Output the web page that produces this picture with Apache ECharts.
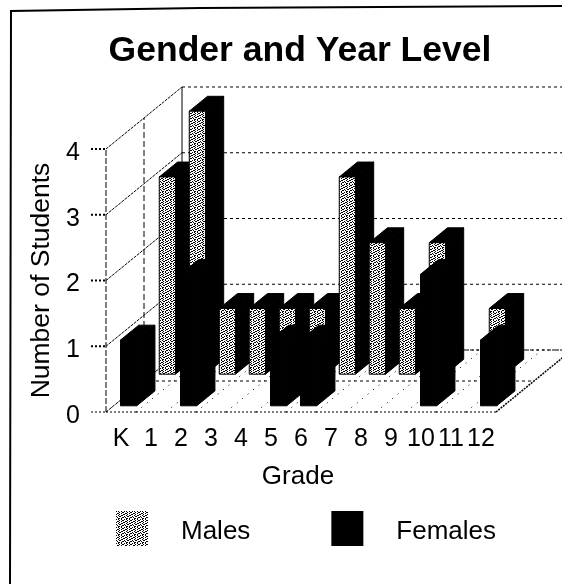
<!DOCTYPE html>
<html>
<head>
<meta charset="utf-8">
<title>Gender and Year Level</title>
<script src="https://cdn.jsdelivr.net/npm/echarts@6/dist/echarts.min.js"></script>
<style>
    html, body { margin: 0; padding: 0; background: #fff; }
    #main { width: 562px; height: 584px; }
</style>
</head>
<body>
<div id="main"></div>
<script>
const grades = ['K', '1', '2', '3', '4', '5', '6', '7', '8', '9', '10', '11', '12']
const males = [3, 4, 1, 1, 1, 1, 3, 2, 1, 2, 0, 1, 0]
const females = [1, 0, 2, 0, 0, 1, 1, 0, 0, 0, 2, 0, 1]
const yTicks = [0, 1, 2, 3, 4]

const FONT = '"Liberation Sans", Arial, sans-serif'
// oblique vector of the whole floor, px
const DEPTH_X = 76
const DEPTH_Y = -62

// halftone tile for the male bars
const tileRows = [
    '10100100',
    '00010011',
    '01100100',
    '10010001',
    '00100110',
    '10011000',
    '01000011',
    '00110100'
]
const tile = document.createElement('canvas')
tile.width = 8
tile.height = 8
const tileCtx = tile.getContext('2d')
tileCtx.fillStyle = '#fff'
tileCtx.fillRect(0, 0, 8, 8)
tileCtx.fillStyle = '#000'
tileRows.forEach((row, y) => {
    row.split('').forEach((c, x) => {
        if (c === '1') tileCtx.fillRect(x, y, 1, 1)
    })
})
const halftone = { image: tile, repeat: 'repeat' }

const shift = (p, f) => [p[0] + DEPTH_X * f, p[1] + DEPTH_Y * f]

const line = (a, b, dash, width) => ({
    type: 'line',
    shape: { x1: a[0], y1: a[1], x2: b[0], y2: b[1] },
    style: { stroke: '#000', lineWidth: width || 1, lineDash: dash || null }
})

const poly = (points, fill) => ({
    type: 'polygon',
    shape: { points: points },
    style: { fill: fill, stroke: '#000', lineWidth: 1 }
})

// bar with front face, right side and top, front/back are floor depth fractions
const barRenderer = (front, back, frontFill) => (params, api) => {
    const i = api.value(0)
    const v = api.value(1)
    if (!v) return null
    const half = api.size([1, 0])[0] * 0.27
    const base = api.coord([i, 0])
    const top = api.coord([i, v])
    const bl = shift([base[0] - half, base[1]], front)
    const br = shift([base[0] + half, base[1]], front)
    const tl = shift([top[0] - half, top[1]], front)
    const tr = shift([top[0] + half, top[1]], front)
    const d = back - front
    return {
        type: 'group',
        children: [
            poly([br, tr, shift(tr, d), shift(br, d)], '#000'),
            poly([tl, tr, shift(tr, d), shift(tl, d)], '#000'),
            poly([bl, br, tr, tl], frontFill)
        ]
    }
}

const wallRenderer = (params, api) => {
    const v = api.value(0)
    const p = api.coord([0, v])
    const left = [p[0] - api.size([1, 0])[0] / 2, p[1]]
    const back = shift(left, 1)
    const children = [
        line(left, back, [3, 1]),
        line(back, [back[0] + 390, back[1]], [3, 3]),
        line([left[0] - 15, left[1]], left, [2, 2], v === 0 ? 1 : 2)
    ]
    if (v === 4) {
        const bottom = api.coord([0, 0])
        const low = [left[0], bottom[1]]
        children.push(line(low, left, [6, 2]))
        children.push(line(shift(low, 0.5), shift(left, 0.5), [6, 3]))
        children.push(line(shift(low, 1), back))
    }
    return { type: 'group', children: children }
}

const floorRenderer = (params, api) => {
    const i = api.value(0)
    const w = api.size([1, 0])[0]
    const c = api.coord([i, 0])
    const a = [c[0] - w / 2, c[1]]
    const children = [
        line(a, shift(a, 1), [1, 6]),
        line(a, [a[0] + w, a[1]], [2, 2]),
        line(shift(a, 0.5), shift([a[0] + w, a[1]], 0.5), [3, 3]),
        line(shift(a, 1), shift([a[0] + w, a[1]], 1), [2, 3])
    ]
    if (i === grades.length - 1) {
        const b = [a[0] + w, a[1]]
        children.push(line(b, shift(b, 1), [2, 1], 1.5))
    }
    return { type: 'group', children: children }
}

const chart = echarts.init(document.getElementById('main'))
chart.setOption({
    backgroundColor: '#fff',
    animation: false,
    title: {
        text: 'Gender and Year Level',
        left: 295,
        top: 28,
        textAlign: 'center',
        textStyle: { fontFamily: FONT, fontSize: 35.5, fontWeight: 'bold', color: '#000' }
    },
    legend: {
        left: 111,
        top: 506,
        icon: 'rect',
        itemWidth: 32,
        itemHeight: 35,
        itemGap: 81,
        selectedMode: false,
        data: ['Males', 'Females'],
        formatter: name => '{a|' + name + '}',
        textStyle: {
            rich: { a: { fontFamily: FONT, fontSize: 26, color: '#000', padding: [6, 0, 0, 28] } }
        }
    },
    grid: { left: 106, width: 390, top: 149, height: 263 },
    xAxis: {
        type: 'category',
        data: grades,
        name: 'Grade',
        nameLocation: 'middle',
        nameGap: 52,
        nameTextStyle: { fontFamily: FONT, fontSize: 26, color: '#000', padding: [0, 6, 0, 0] },
        axisLine: { show: false },
        axisTick: { show: false },
        axisLabel: { interval: 0, margin: 15, hideOverlap: false, fontFamily: FONT, fontSize: 25, color: '#000' }
    },
    yAxis: {
        type: 'value',
        min: 0,
        max: 4,
        interval: 1,
        name: 'Number of Students',
        nameLocation: 'middle',
        nameGap: 51,
        nameTextStyle: { fontFamily: FONT, fontSize: 26.5, color: '#000' },
        axisLine: { show: false },
        axisTick: { show: false },
        splitLine: { show: false },
        axisLabel: {
            margin: 26,
            formatter: '{a|{value}}',
            rich: { a: { fontFamily: FONT, fontSize: 25, color: '#000', padding: [8, 0, 0, 0] } }
        }
    },
    series: [
        {
            type: 'custom',
            name: 'walls',
            z: 1,
            clip: false,
            encode: { x: -1, y: 0 },
            data: yTicks.map(v => [v]),
            renderItem: wallRenderer
        },
        {
            type: 'custom',
            name: 'floor',
            z: 1,
            clip: false,
            data: grades.map((g, i) => [i]),
            renderItem: floorRenderer
        },
        {
            type: 'custom',
            name: 'Males',
            z: 2,
            clip: false,
            itemStyle: { color: halftone },
            data: males.map((v, i) => [i, v]),
            renderItem: barRenderer(0.61, 0.85, halftone)
        },
        {
            type: 'custom',
            name: 'Females',
            z: 3,
            clip: false,
            itemStyle: { color: '#000' },
            data: females.map((v, i) => [i, v]),
            renderItem: barRenderer(0.1, 0.34, '#000')
        }
    ],
    graphic: [
        // scanned page frame, only top and left survive
        { type: 'polyline', silent: true, shape: { points: [[10, 584], [11, 11], [200, 8], [562, 6]] }, style: { fill: null, stroke: '#000', lineWidth: 2 } }
    ]
})
</script>
</body>
</html>
